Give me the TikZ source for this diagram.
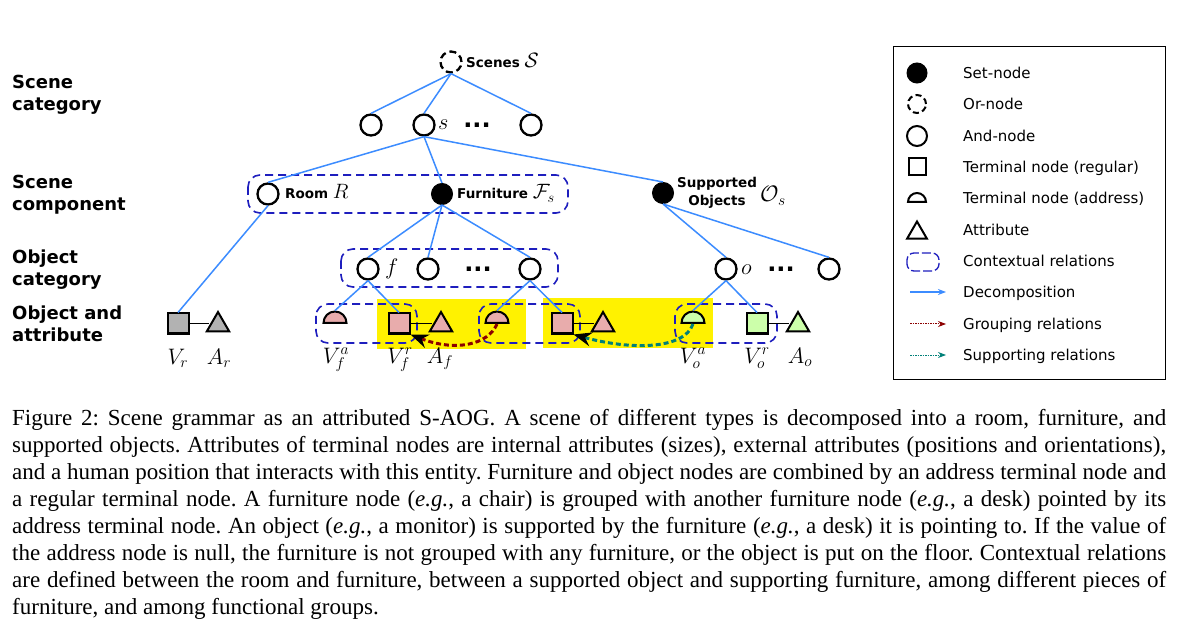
\documentclass[tikz,border=0pt]{standalone}
\usepackage{fontspec}
\setmainfont{Liberation Serif}
\newfontfamily\djs{DejaVu Sans}
\usetikzlibrary{shapes.geometric,arrows.meta}
\definecolor{decblue}{RGB}{60,140,255}
\definecolor{ctxblue}{RGB}{30,30,190}
\definecolor{pinkf}{RGB}{232,172,172}
\definecolor{greenf}{RGB}{204,255,170}
\definecolor{grayf}{RGB}{178,178,178}
\definecolor{grpred}{RGB}{140,0,0}
\definecolor{supteal}{RGB}{0,128,120}
\newcommand\capline[1]{\hbox to 1154pt{#1}}
\frenchspacing
\begin{document}
\begin{tikzpicture}[x=1pt,y=-1pt,
  andnode/.style={circle,draw,line width=2.3pt,minimum size=21pt,inner sep=0pt,fill=white},
  ornode/.style={andnode,dash pattern=on 7pt off 4pt},
  setnode/.style={circle,fill=black,draw,line width=1pt,minimum size=21pt,inner sep=0pt},
  term/.style={rectangle,draw,line width=2pt,minimum width=21pt,minimum height=20pt,inner sep=0pt},
  addr/.style={semicircle,draw,line width=2pt,minimum width=23pt,inner sep=0pt,anchor=chord center},
  attr/.style={regular polygon,regular polygon sides=3,draw,line width=2pt,minimum size=26pt,inner sep=0pt},
  dec/.style={draw=decblue,line width=1.5pt},
  ctx/.style={draw=ctxblue,line width=1.6pt,dash pattern=on 8pt off 5pt,rounded corners=12pt},
  rowlab/.style={font=\djs\bfseries\fontsize{18}{22}\selectfont,align=left,anchor=north west,inner sep=0pt},
  lab/.style={font=\djs\bfseries\fontsize{13.5}{16}\selectfont,inner sep=0pt,anchor=base west},
  leg/.style={font=\djs\fontsize{15}{18}\selectfont,inner sep=0pt,anchor=base west},
  mlab/.style={font=\fontsize{20.74}{25}\selectfont,inner sep=0pt,anchor=base,scale=1.08},
  dotsn/.style={font=\djs\bfseries\fontsize{24}{28}\selectfont,inner sep=0pt,anchor=base},
  link/.style={line width=1.2pt},
  grp/.style={draw=grpred,line width=3pt,dash pattern=on 5pt off 3pt,-{Stealth[black,length=18pt,width=14pt,inset=6pt]}},
  sup/.style={draw=supteal,line width=3pt,dash pattern=on 5pt off 3pt,-{Stealth[black,length=18pt,width=14pt,inset=6pt]}}
]
\useasboundingbox (0,0) rectangle (1178,628);
\fill[white] (0,0) rectangle (1178,628);

% yellow functional groups
\fill[yellow] (377,299) rectangle (526,349);
\fill[yellow] (543,298) rectangle (713,348);

% contextual relations
\draw[ctx] (248,175) rectangle (568,213);
\draw[ctx] (341,249) rectangle (558,287);
\draw[ctx] (316,304) rectangle (417,343);
\draw[ctx] (479,304) rectangle (580,343);
\draw[ctx] (675,304) rectangle (777,343);

% row labels
\node[rowlab] (r1) at (12,75) {Scene\\category};
\node[rowlab] (r2) at (12,175) {Scene\\component};
\node[rowlab] (r3) at (12,250) {Object\\category};
\node[rowlab] (r4) at (12,306) {Object and\\attribute};

% top level
\node[ornode] (S) at (451,62) {};
\node[lab] (Slab) at (466,68) {Scenes {\fontsize{20.74}{25}\selectfont$\mathcal{S}$}};
\node[andnode] (c1) at (371,125) {};
\node[andnode] (s) at (424,125) {};
\node[andnode] (c3) at (531,125) {};
\node[mlab,anchor=base west] (slab) at (438,130) {$s$};
\node[dotsn] (d1) at (477,128) {...};

% scene components
\node[andnode] (room) at (268,194) {};
\node[lab] (roomlab) at (285,199) {Room {\fontsize{20.74}{25}\selectfont$R$}};
\node[setnode] (furn) at (442,194) {};
\node[lab] (furnlab) at (457,199) {Furniture {\fontsize{20.74}{25}\selectfont$\mathcal{F}_s$}};
\node[setnode] (supp) at (663,193) {};
\node[lab,align=center,anchor=center,font=\djs\bfseries\fontsize{13.5}{18}\selectfont] (supplab) at (717,193) {Supported\\Objects};
\node[mlab] (Os) at (773,202) {$\mathcal{O}_s$};

% object categories
\node[andnode] (f) at (368,269) {};
\node[mlab,anchor=base west] (flab) at (385,275) {$f$};
\node[andnode] (f2) at (428,269) {};
\node[dotsn] (d2) at (478,272) {...};
\node[andnode] (f3) at (530,269) {};
\node[andnode] (o) at (726,269) {};
\node[mlab,anchor=base west] (olab) at (741,275) {$o$};
\node[dotsn] (d3) at (781,272) {...};
\node[andnode] (o2) at (829,269) {};

% terminals and attributes
\node[term,fill=grayf] (vr) at (178,323.5) {};
\node[attr,fill=grayf] (ar) at (218,325) {};
\node[addr,fill=pinkf] (hc1) at (335,324) {};
\node[term,fill=pinkf] (sq1) at (399,323.5) {};
\node[attr,fill=pinkf] (tr1) at (441,325) {};
\node[addr,fill=pinkf] (hc2) at (497,324) {};
\node[term,fill=pinkf] (sq2) at (562,323.5) {};
\node[attr,fill=pinkf] (tr2) at (603,325) {};
\node[addr,fill=greenf] (hc3) at (693,324) {};
\node[term,fill=greenf] (sq3) at (757,323.5) {};
\node[attr,fill=greenf] (tr3) at (798,325) {};

\draw[link] (vr.east) -- (vr.east -| ar.west);
\draw[link] (sq1.east) -- (sq1.east -| tr1.west);
\draw[link] (sq2.east) -- (sq2.east -| tr2.west);
\draw[link] (sq3.east) -- (sq3.east -| tr3.west);

% math labels
\node[mlab] (lvr) at (178,364) {$V_r$};
\node[mlab] (lar) at (219,364) {$A_r$};
\node[mlab] (lvfa) at (336,363) {$V_f^a$};
\node[mlab] (lvfr) at (400,363) {$V_f^r$};
\node[mlab] (laf) at (440,363) {$A_f$};
\node[mlab] (lvoa) at (693,363) {$V_o^a$};
\node[mlab] (lvor) at (757,363) {$V_o^r$};
\node[mlab] (lao) at (800,363) {$A_o$};

% decomposition edges
\draw[dec] (S.south) -- (c1.north);
\draw[dec] (S.south) -- (s.north);
\draw[dec] (S.south) -- (c3.north);
\draw[dec] (s.south) -- (room.north);
\draw[dec] (s.south) -- (furn.north);
\draw[dec] (s.south) -- (supp.north);
\draw[dec] (room.south) -- (vr.north);
\draw[dec] (furn.south) -- (f.north);
\draw[dec] (furn.south) -- (f2.north);
\draw[dec] (furn.south) -- (f3.north);
\draw[dec] (f.south) -- (hc1.apex);
\draw[dec] (f.south) -- (sq1.north);
\draw[dec] (f3.south) -- (hc2.apex);
\draw[dec] (f3.south) -- (sq2.north);
\draw[dec] (supp.south) -- (o.north);
\draw[dec] (supp.south) -- (o2.north);
\draw[dec] (o.south) -- (hc3.apex);
\draw[dec] (o.south) -- (sq3.north);

% grouping and supporting relations
\draw[grp] (hc2.chord center) .. controls (488,345) and (455,352) .. (sq1.south east);
\draw[sup] (hc3.chord center) .. controls (684,350) and (630,350) .. (sq2.south east);

% legend
\draw[line width=1pt] (893,47) rectangle (1165,379);
\node[setnode,minimum size=20pt] (l1) at (917,73) {};
\node[ornode,minimum size=18pt,line width=2pt,dash pattern=on 6pt off 3.5pt] (l2) at (917,104) {};
\node[andnode,minimum size=20pt,line width=2pt] (l3) at (917,136) {};
\node[term,fill=white,minimum width=17pt,minimum height=17pt] (l4) at (917,167) {};
\node[addr,fill=white,minimum width=18pt] (l5) at (917,203) {};
\node[attr,fill=white,minimum size=23pt] (l6) at (917,233) {};
\draw[ctx,rounded corners=7pt,dash pattern=on 9pt off 3pt,line width=1.3pt] (907,253) rectangle (939,271);
\coordinate (a1s) at (910,292); \coordinate (a1e) at (946,292);
\coordinate (a2s) at (910,324); \coordinate (a2e) at (946,324);
\coordinate (a3s) at (910,355); \coordinate (a3e) at (946,355);
\draw[draw=decblue,line width=1.5pt,-{Stealth[length=8pt,width=6pt]}] (a1s) -- (a1e);
\draw[draw=grpred,line width=1pt,dash pattern=on 1.5pt off 1pt,-{Stealth[length=8pt,width=6pt,fill=grpred]}] (a2s) -- (a2e);
\draw[draw=supteal,line width=1pt,dash pattern=on 1.5pt off 1pt,-{Stealth[length=8pt,width=6pt,fill=supteal]}] (a3s) -- (a3e);
\node[leg] (t1) at (963,78.5) {Set-node};
\node[leg] (t2) at (963,109.5) {Or-node};
\node[leg] (t3) at (963,141.5) {And-node};
\node[leg] (t4) at (963,172.5) {Terminal node (regular)};
\node[leg] (t5) at (963,203.5) {Terminal node (address)};
\node[leg] (t6) at (963,235.5) {Attribute};
\node[leg] (t7) at (963,266.5) {Contextual relations};
\node[leg] (t8) at (963,297.5) {Decomposition};
\node[leg] (t9) at (963,329.5) {Grouping relations};
\node[leg] (t10) at (963,360.5) {Supporting relations};

% caption
\node[anchor=north west,inner sep=0pt,font=\fontsize{23}{27}\selectfont] (cap) at (12,409) {\vbox{%
\capline{Figure 2: Scene grammar as an attributed S-AOG. A scene of different types is decomposed into a room, furniture, and}
\capline{supported objects. Attributes of terminal nodes are internal attributes (sizes), external attributes (positions and orientations),}
\capline{and a human position that interacts with this entity. Furniture and object nodes are combined by an address terminal node and}
\capline{a regular terminal node. A furniture node (\textit{e.g.}, a chair) is grouped with another furniture node (\textit{e.g.}, a desk) pointed by its}
\capline{address terminal node. An object (\textit{e.g.}, a monitor) is supported by the furniture (\textit{e.g.}, a desk) it is pointing to. If the value of}
\capline{the address node is null, the furniture is not grouped with any furniture, or the object is put on the floor. Contextual relations}
\capline{are defined between the room and furniture, between a supported object and supporting furniture, among different pieces of}
\hbox{furniture, and among functional groups.}}};
\end{tikzpicture}
\end{document}
